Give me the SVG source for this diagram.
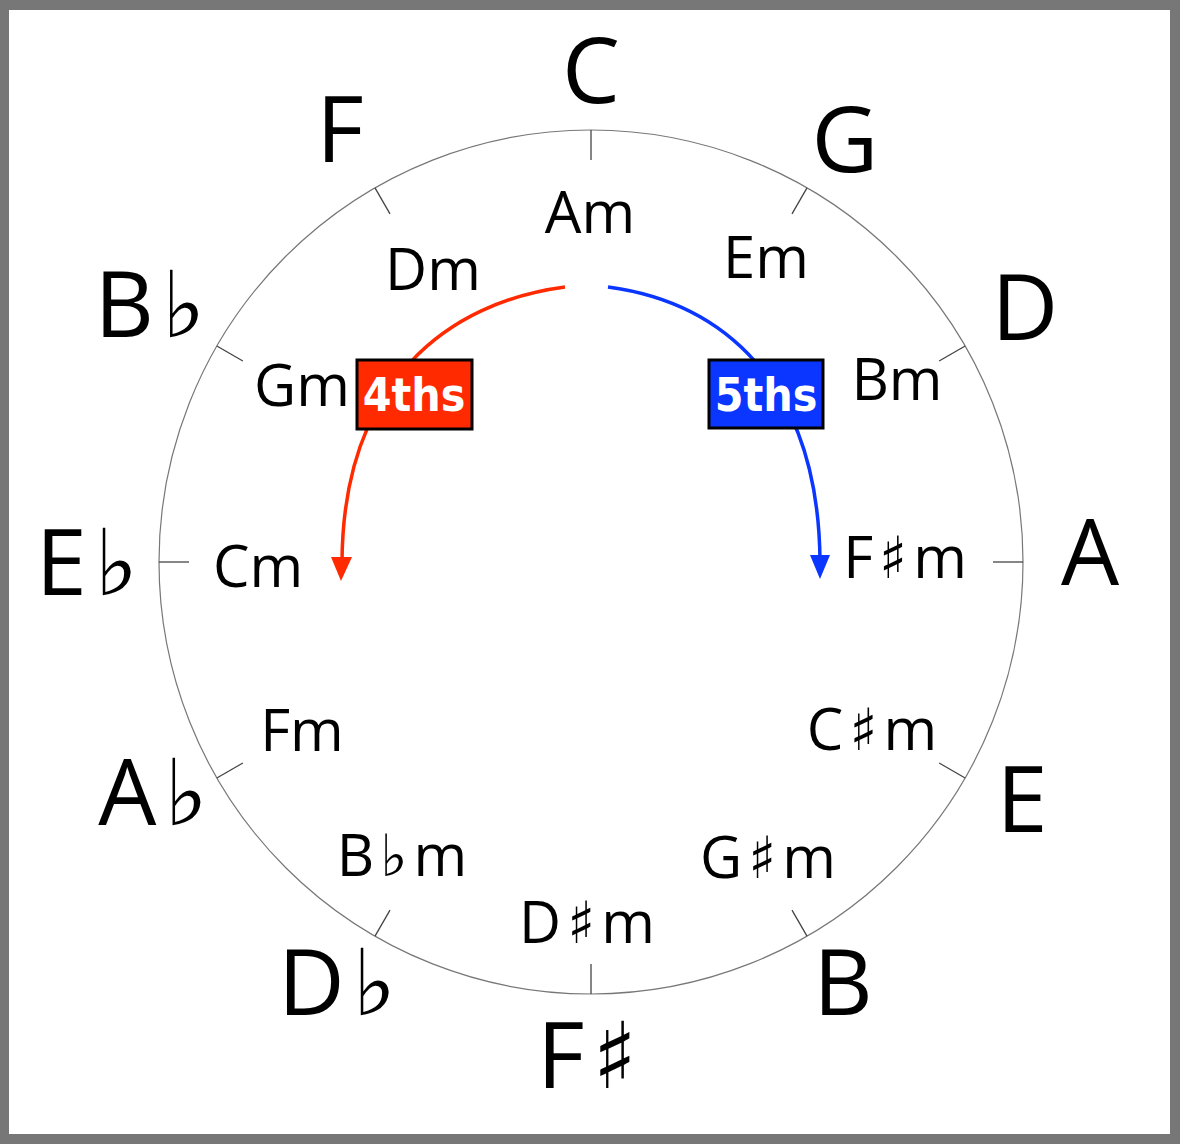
<svg xmlns="http://www.w3.org/2000/svg" width="1180" height="1144" viewBox="0 0 1180 1144">
<style>
.o{font-family:"Open Sans","DejaVu Sans",sans-serif;font-size:92px;fill:#000;text-anchor:middle}
.i{font-family:"Open Sans","DejaVu Sans",sans-serif;font-size:58px;fill:#000;text-anchor:middle}
.s{font-family:"DejaVu Sans",sans-serif}
.t{stroke:#444;stroke-width:1.3}
.lb{font-family:"DejaVu Sans Condensed","DejaVu Sans",sans-serif;font-weight:bold;font-size:46px;fill:#fff;text-anchor:middle}
</style>
<rect x="0" y="0" width="1180" height="1144" fill="#777"/>
<rect x="9" y="10" width="1161" height="1124" fill="#fff"/>
<g id="wheel">
<circle cx="591" cy="562" r="432" fill="none" stroke="#777" stroke-width="1.2"/>
<g transform="translate(591 562)">
<line class="t" x1="0" y1="-432" x2="0" y2="-402"/>
<line class="t" x1="0" y1="-432" x2="0" y2="-402" transform="rotate(30)"/>
<line class="t" x1="0" y1="-432" x2="0" y2="-402" transform="rotate(60)"/>
<line class="t" x1="0" y1="-432" x2="0" y2="-402" transform="rotate(90)"/>
<line class="t" x1="0" y1="-432" x2="0" y2="-402" transform="rotate(120)"/>
<line class="t" x1="0" y1="-432" x2="0" y2="-402" transform="rotate(150)"/>
<line class="t" x1="0" y1="-432" x2="0" y2="-402" transform="rotate(180)"/>
<line class="t" x1="0" y1="-432" x2="0" y2="-402" transform="rotate(210)"/>
<line class="t" x1="0" y1="-432" x2="0" y2="-402" transform="rotate(240)"/>
<line class="t" x1="0" y1="-432" x2="0" y2="-402" transform="rotate(270)"/>
<line class="t" x1="0" y1="-432" x2="0" y2="-402" transform="rotate(300)"/>
<line class="t" x1="0" y1="-432" x2="0" y2="-402" transform="rotate(330)"/>
</g>
</g>
<g id="major">
<text class="o" x="591" y="103">C</text>
<text class="o" x="845" y="172">G</text>
<text class="o" x="1025" y="340">D</text>
<text class="o" x="1090" y="585">A</text>
<text class="o" x="1022" y="832">E</text>
<text class="o" x="843" y="1015">B</text>
<text class="o" x="587" y="1088">F<tspan class="s" dx="8">♯</tspan></text>
<text class="o" x="337" y="1015">D<tspan class="s" dx="8">♭</tspan></text>
<text class="o" x="153" y="825">A<tspan class="s" dx="8">♭</tspan></text>
<text class="o" x="87" y="595">E<tspan class="s" dx="8">♭</tspan></text>
<text class="o" x="150" y="337">B<tspan class="s" dx="8">♭</tspan></text>
<text class="o" x="340" y="162">F</text>
</g>
<g id="minor">
<text class="i" x="590" y="233">Am</text>
<text class="i" x="766" y="278">Em</text>
<text class="i" x="897" y="400">Bm</text>
<text class="i" x="905" y="578">F<tspan class="s" dx="6">♯</tspan><tspan dx="6">m</tspan></text>
<text class="i" x="872" y="750">C<tspan class="s" dx="6">♯</tspan><tspan dx="6">m</tspan></text>
<text class="i" x="768" y="878">G<tspan class="s" dx="6">♯</tspan><tspan dx="6">m</tspan></text>
<text class="i" x="587" y="943">D<tspan class="s" dx="6">♯</tspan><tspan dx="6">m</tspan></text>
<text class="i" x="402" y="876">B<tspan class="s" dx="6">♭</tspan><tspan dx="6">m</tspan></text>
<text class="i" x="302" y="751">Fm</text>
<text class="i" x="258" y="587">Cm</text>
<text class="i" x="302" y="406">Gm</text>
<text class="i" x="433" y="290">Dm</text>
</g>
<g id="connectors" fill="none" stroke-width="3.5">
<path d="M565,287 C450,302 343,380 342,562" stroke="#ff2a00"/>
<path d="M331,557 L352,557 L341,581 Z" fill="#ff2a00" stroke="none"/>
<path d="M608,287 C720,302 818,380 820,560" stroke="#0a36ff"/>
<path d="M810,555 L830,555 L820,579 Z" fill="#0a36ff" stroke="none"/>
</g>
<g id="fourths">
<rect x="357" y="360" width="115" height="69" fill="#ff2a00" stroke="#000" stroke-width="3"/>
<text class="lb" x="414" y="411">4ths</text>
</g>
<g id="fifths">
<rect x="709" y="360" width="114" height="68" fill="#0a36ff" stroke="#000" stroke-width="3"/>
<text class="lb" x="766" y="411">5ths</text>
</g>
</svg>
